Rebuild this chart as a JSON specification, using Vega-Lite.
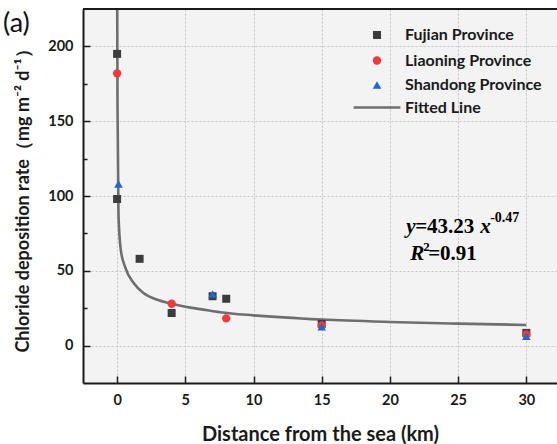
{
  "$schema": "https://vega.github.io/schema/vega-lite/v6.json",
  "autosize": {"type": "none"},
  "padding": {"left": 83, "top": 9, "right": 0, "bottom": 61},
  "width": 474,
  "height": 374,
  "background": "white",
  "config": {
    "view": {"stroke": null, "fill": "#f3f3f3"},
    "axis": {"labelFont": "Lato", "labelFontWeight": "bold", "labelFontSize": 14.5, "labelColor": "#1a1a1a", "titleFont": "Lato", "titleFontWeight": "bold", "titleColor": "#1a1a1a", "domainColor": "#1a1a1a", "domainWidth": 2, "tickColor": "#1a1a1a", "tickWidth": 1.5, "gridColor": "#c4c4c4", "gridDash": [2, 2], "gridWidth": 1}
  },
  "datasets": {
    "pts": [
      {"series": "Fujian Province", "distance": 0, "rate": 195},
      {"series": "Fujian Province", "distance": 0, "rate": 98},
      {"series": "Fujian Province", "distance": 1.65, "rate": 58},
      {"series": "Fujian Province", "distance": 4, "rate": 21.8},
      {"series": "Fujian Province", "distance": 7, "rate": 33},
      {"series": "Fujian Province", "distance": 8, "rate": 31.3},
      {"series": "Fujian Province", "distance": 15, "rate": 14.5},
      {"series": "Fujian Province", "distance": 30, "rate": 8.5},
      {"series": "Liaoning Province", "distance": 0, "rate": 182},
      {"series": "Liaoning Province", "distance": 4, "rate": 28},
      {"series": "Liaoning Province", "distance": 8, "rate": 18.2},
      {"series": "Liaoning Province", "distance": 15, "rate": 13.5},
      {"series": "Liaoning Province", "distance": 30, "rate": 7.5},
      {"series": "Shandong Province", "distance": 0.1, "rate": 108},
      {"series": "Shandong Province", "distance": 7, "rate": 34.5},
      {"series": "Shandong Province", "distance": 15, "rate": 12.6},
      {"series": "Shandong Province", "distance": 30, "rate": 6.2}
    ],
    "fit": [
      {"distance": 0.005, "rate": 240},
      {"distance": 0.03, "rate": 160},
      {"distance": 0.1, "rate": 88},
      {"distance": 0.27, "rate": 64},
      {"distance": 0.59, "rate": 52.5},
      {"distance": 1.2, "rate": 42},
      {"distance": 1.93, "rate": 35.2},
      {"distance": 2.9, "rate": 30.8},
      {"distance": 4, "rate": 28},
      {"distance": 5.1, "rate": 25.8},
      {"distance": 6.1, "rate": 24.4},
      {"distance": 7.56, "rate": 22.3},
      {"distance": 10, "rate": 20.2},
      {"distance": 15, "rate": 17.4},
      {"distance": 20, "rate": 15.8},
      {"distance": 25, "rate": 14.7},
      {"distance": 30, "rate": 13.8}
    ],
    "one": [{}]
  },
  "layer": [
    {
      "data": {"name": "fit"},
      "mark": {"type": "line", "color": "#6e6e6e", "strokeWidth": 2.6, "interpolate": "monotone", "clip": true},
      "encoding": {
        "x": {"field": "distance", "type": "quantitative",
          "scale": {"domain": [-2.5, 32.25], "nice": false, "zero": false},
          "axis": {
            "title": "Distance from the sea (km)", "titleFontSize": 20, "titleY": 57, "titleBaseline": "alphabetic",
            "values": [0, 2.5, 5, 7.5, 10, 12.5, 15, 17.5, 20, 22.5, 25, 27.5, 30],
            "labelExpr": "datum.value % 5 === 0 ? datum.label : ''",
            "tickSize": {"condition": {"test": "datum.value % 5 !== 0", "value": -4}, "value": -7},
            "gridOpacity": {"condition": {"test": "datum.value % 5 !== 0", "value": 0}, "value": 1},
            "labelPadding": 17
          }},
        "y": {"field": "rate", "type": "quantitative",
          "scale": {"domain": [-25, 225], "nice": false, "zero": false},
          "axis": {
            "title": "Chloride deposition rate（mg m⁻² d⁻¹）", "titleFontSize": 18, "titleX": -54.5, "titleBaseline": "alphabetic",
            "values": [0, 25, 50, 75, 100, 125, 150, 175, 200],
            "labelExpr": "datum.value % 50 === 0 ? datum.label : ''",
            "tickSize": {"condition": {"test": "datum.value % 50 !== 0", "value": -4}, "value": -7},
            "gridOpacity": {"condition": {"test": "datum.value % 50 !== 0", "value": 0}, "value": 1},
            "labelPadding": 17
          }}
      }
    },
    {
      "data": {"name": "pts"},
      "mark": {"type": "point", "filled": true, "opacity": 1},
      "encoding": {
        "x": {"field": "distance", "type": "quantitative"},
        "y": {"field": "rate", "type": "quantitative"},
        "size": {"field": "series", "type": "nominal", "legend": null,
          "scale": {"domain": ["Fujian Province", "Liaoning Province", "Shandong Province", "Fitted Line"], "range": [64, 81, 100, 64]}},
        "color": {"field": "series", "type": "nominal",
          "scale": {"domain": ["Fujian Province", "Liaoning Province", "Shandong Province", "Fitted Line"], "range": ["#3d3d3d", "#ee3a3a", "#1d68d6", "#6e6e6e"]},
          "legend": {"title": null, "orient": "none", "legendX": 286, "legendY": 18, "padding": 0, "symbolSize": 64, "labelFont": "Lato", "labelFontWeight": "bold", "labelFontSize": 16, "labelColor": "#1a1a1a", "labelOffset": 20, "rowPadding": 5.5, "symbolOpacity": 1,
            "encode": {"symbols": {"update": {"stroke": {"signal": "datum.value === 'Fitted Line' ? '#6e6e6e' : 'transparent'"}, "strokeWidth": {"value": 2.6}}}}}},
        "shape": {"field": "series", "type": "nominal",
          "scale": {"domain": ["Fujian Province", "Liaoning Province", "Shandong Province", "Fitted Line"], "range": ["square", "circle", "triangle-up", "M-5.2,0H5.2"]},
          "legend": {"title": null, "orient": "none", "legendX": 286, "legendY": 18, "padding": 0, "symbolSize": 64, "labelFont": "Lato", "labelFontWeight": "bold", "labelFontSize": 16, "labelColor": "#1a1a1a", "labelOffset": 20, "rowPadding": 5.5, "symbolOpacity": 1,
            "encode": {"symbols": {"update": {"stroke": {"signal": "datum.value === 'Fitted Line' ? '#6e6e6e' : 'transparent'"}, "strokeWidth": {"value": 2.6}}}}}}
      }
    },
    {
      "data": {"name": "one"},
      "mark": {"type": "rule", "color": "#1a1a1a", "strokeWidth": 2},
      "encoding": {"y": {"datum": 225, "type": "quantitative"}}
    },
    {
      "data": {"name": "one"},
      "mark": {"type": "text", "font": "Lato", "fontSize": 27, "align": "left", "baseline": "alphabetic", "fill": "#111"},
      "encoding": {"x": {"datum": -8.37, "type": "quantitative"}, "y": {"datum": 209.6, "type": "quantitative"}, "text": {"value": "(a)"}}
    },
    {
      "data": {"name": "one"},
      "mark": {"type": "text", "font": "Liberation Serif", "fontSize": 21, "fontWeight": "bold", "fontStyle": "italic", "align": "left", "baseline": "alphabetic", "fill": "#000"},
      "encoding": {"x": {"datum": 21.19, "type": "quantitative"}, "y": {"datum": 75.1, "type": "quantitative"}, "text": {"value": "y"}}
    },
    {
      "data": {"name": "one"},
      "mark": {"type": "text", "font": "Liberation Serif", "fontSize": 21, "fontWeight": "bold", "align": "left", "baseline": "alphabetic", "fill": "#000", "dx": 9},
      "encoding": {"x": {"datum": 21.19, "type": "quantitative"}, "y": {"datum": 75.1, "type": "quantitative"}, "text": {"value": "=43.23"}}
    },
    {
      "data": {"name": "one"},
      "mark": {"type": "text", "font": "Liberation Serif", "fontSize": 21, "fontWeight": "bold", "fontStyle": "italic", "align": "left", "baseline": "alphabetic", "fill": "#000", "dx": 74},
      "encoding": {"x": {"datum": 21.19, "type": "quantitative"}, "y": {"datum": 75.1, "type": "quantitative"}, "text": {"value": "x"}}
    },
    {
      "data": {"name": "one"},
      "mark": {"type": "text", "font": "Liberation Serif", "fontSize": 14, "fontWeight": "bold", "align": "left", "baseline": "alphabetic", "fill": "#000", "dx": 84, "dy": -11},
      "encoding": {"x": {"datum": 21.19, "type": "quantitative"}, "y": {"datum": 75.1, "type": "quantitative"}, "text": {"value": "-0.47"}}
    },
    {
      "data": {"name": "one"},
      "mark": {"type": "text", "font": "Liberation Serif", "fontSize": 21, "fontWeight": "bold", "fontStyle": "italic", "align": "left", "baseline": "alphabetic", "fill": "#000", "dx": 4},
      "encoding": {"x": {"datum": 21.19, "type": "quantitative"}, "y": {"datum": 57.2, "type": "quantitative"}, "text": {"value": "R"}}
    },
    {
      "data": {"name": "one"},
      "mark": {"type": "text", "font": "Liberation Serif", "fontSize": 13, "fontWeight": "bold", "align": "left", "baseline": "alphabetic", "fill": "#000", "dx": 17, "dy": -9},
      "encoding": {"x": {"datum": 21.19, "type": "quantitative"}, "y": {"datum": 57.2, "type": "quantitative"}, "text": {"value": "2"}}
    },
    {
      "data": {"name": "one"},
      "mark": {"type": "text", "font": "Liberation Serif", "fontSize": 21, "fontWeight": "bold", "align": "left", "baseline": "alphabetic", "fill": "#000", "dx": 22},
      "encoding": {"x": {"datum": 21.19, "type": "quantitative"}, "y": {"datum": 57.2, "type": "quantitative"}, "text": {"value": "=0.91"}}
    }
  ]
}
